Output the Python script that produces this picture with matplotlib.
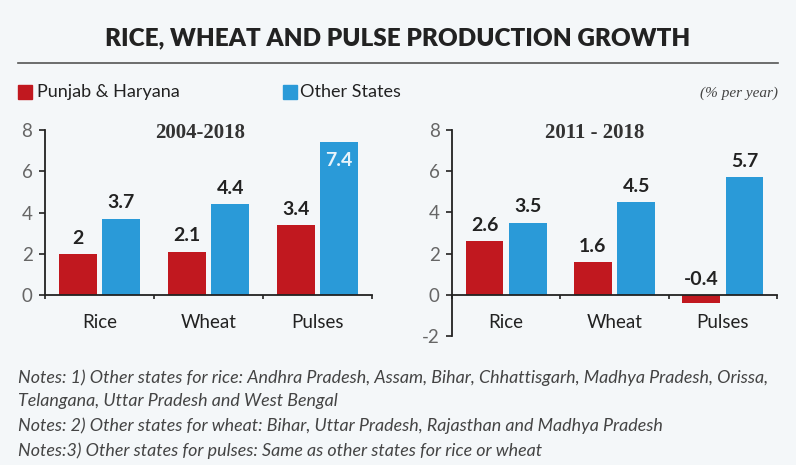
import matplotlib.pyplot as plt
import numpy as np

# Data
categories = ["Rice", "Wheat", "Pulses"]
periods = ["2004-2018", "2011 - 2018"]
punjab_haryana = [[2, 2.1, 3.4], [2.6, 1.6, -0.4]]
other_states = [[3.7, 4.4, 7.4], [3.5, 4.5, 5.7]]
value_labels_ph = [["2", "2.1", "3.4"], ["2.6", "1.6", "-0.4"]]
value_labels_os = [["3.7", "4.4", "7.4"], ["3.5", "4.5", "5.7"]]
ylims = [(0, 8), (-2, 8)]
yticks = [[0, 2, 4, 6, 8], [-2, 0, 2, 4, 6, 8]]
notes = [
    "Notes: 1) Other states for rice: Andhra Pradesh, Assam, Bihar, Chhattisgarh, Madhya Pradesh, Orissa,",
    "Telangana, Uttar Pradesh and West Bengal",
    "Notes: 2) Other states for wheat: Bihar, Uttar Pradesh, Rajasthan and Madhya Pradesh",
    "Notes:3) Other states for pulses: Same as other states for rice or wheat",
]

RED = "#c1181f"
BLUE = "#2a9ad8"
BG = "#f4f7f9"
DARK = "#222222"
FONT = "Lato"

fig = plt.figure(figsize=(7.96, 4.65), dpi=100, facecolor=BG)

# titulo y linea
fig.text(0.5, 0.918, "RICE, WHEAT AND PULSE PRODUCTION GROWTH", ha="center", va="center",
         fontsize=17.5, fontweight="heavy", color=DARK, family=FONT)
fig.add_artist(plt.Line2D([18 / 796, 778 / 796], [1 - 63 / 465] * 2, color="#555555", lw=1.2))

# leyenda
fig.add_artist(plt.Rectangle((18 / 796, 1 - 99 / 465), 14 / 796, 14 / 465, color=RED))
fig.text(37 / 796, 1 - 92 / 465, "Punjab & Haryana", va="center", fontsize=13, color=DARK, family=FONT)
fig.add_artist(plt.Rectangle((283 / 796, 1 - 99 / 465), 14 / 796, 14 / 465, color=BLUE))
fig.text(300 / 796, 1 - 92 / 465, "Other States", va="center", fontsize=13, color=DARK, family=FONT)
fig.text(778 / 796, 1 - 93 / 465, "(% per year)", ha="right", va="center", fontsize=11,
         style="italic", color="#444444", family="Liberation Serif")

axes_boxes = [
    [45 / 796, 1 - 295 / 465, 327 / 796, 165 / 465],
    [452 / 796, 1 - 336 / 465, 325 / 796, 206 / 465],
]
sub_x = [0.92, 0.82]

x = np.arange(len(categories))
w = 0.35
off = 0.2

for i in range(2):
    ax = fig.add_axes(axes_boxes[i])
    ax.set_facecolor("none")
    # primero la posicion del eje (reinicia los ticks)
    for s in ["top", "right"]:
        ax.spines[s].set_visible(False)
    ax.spines["bottom"].set_position(("data", 0))
    ax.spines["left"].set_linewidth(1.3)
    ax.spines["bottom"].set_linewidth(1.3)
    ax.spines["left"].set_color(DARK)
    ax.spines["bottom"].set_color(DARK)

    ax.bar(x - off, punjab_haryana[i], w, color=RED)
    ax.bar(x + off, other_states[i], w, color=BLUE)
    ax.set_xlim(-0.5, 2.5)
    ax.set_ylim(*ylims[i])
    ax.set_yticks(yticks[i])
    ax.set_yticklabels([str(t) for t in yticks[i]], fontsize=13.5, color="#666666", family=FONT)
    ax.set_xticks(x)
    ax.set_xticklabels(categories, fontsize=13.5, color=DARK, family=FONT)
    ax.set_xticks([-0.5, 0.5, 1.5, 2.5], minor=True)
    ax.tick_params(axis="x", which="major", length=0, pad=14)
    ax.tick_params(axis="x", which="minor", length=3, direction="out", width=1.2, color=DARK)
    ax.tick_params(axis="y", length=4, width=1.2, color=DARK, pad=5)

    for j in range(len(categories)):
        v = punjab_haryana[i][j]
        ax.text(x[j] - off, max(v, 0) + 0.35, value_labels_ph[i][j], ha="center", va="bottom",
                fontsize=14, fontweight="bold", color=DARK, family=FONT)
        v = other_states[i][j]
        if v > 7:
            ax.text(x[j] + off, v - 0.45, value_labels_os[i][j], ha="center", va="top",
                    fontsize=14, fontweight="bold", color="#e8f4fb", family=FONT)
        else:
            ax.text(x[j] + off, v + 0.35, value_labels_os[i][j], ha="center", va="bottom",
                    fontsize=14, fontweight="bold", color=DARK, family=FONT)

    ax.text(sub_x[i], 7.85, periods[i], ha="center", va="center", fontsize=15,
            fontweight="bold", color="#333333", family="Liberation Serif")

# notas
note_y = [378, 401, 426, 451]
for t, yy in zip(notes, note_y):
    fig.text(18 / 796, 1 - yy / 465, t, va="center", fontsize=12.9, style="italic",
             color="#444444", family=FONT)

fig.savefig("out.png", dpi=100, facecolor=BG)
